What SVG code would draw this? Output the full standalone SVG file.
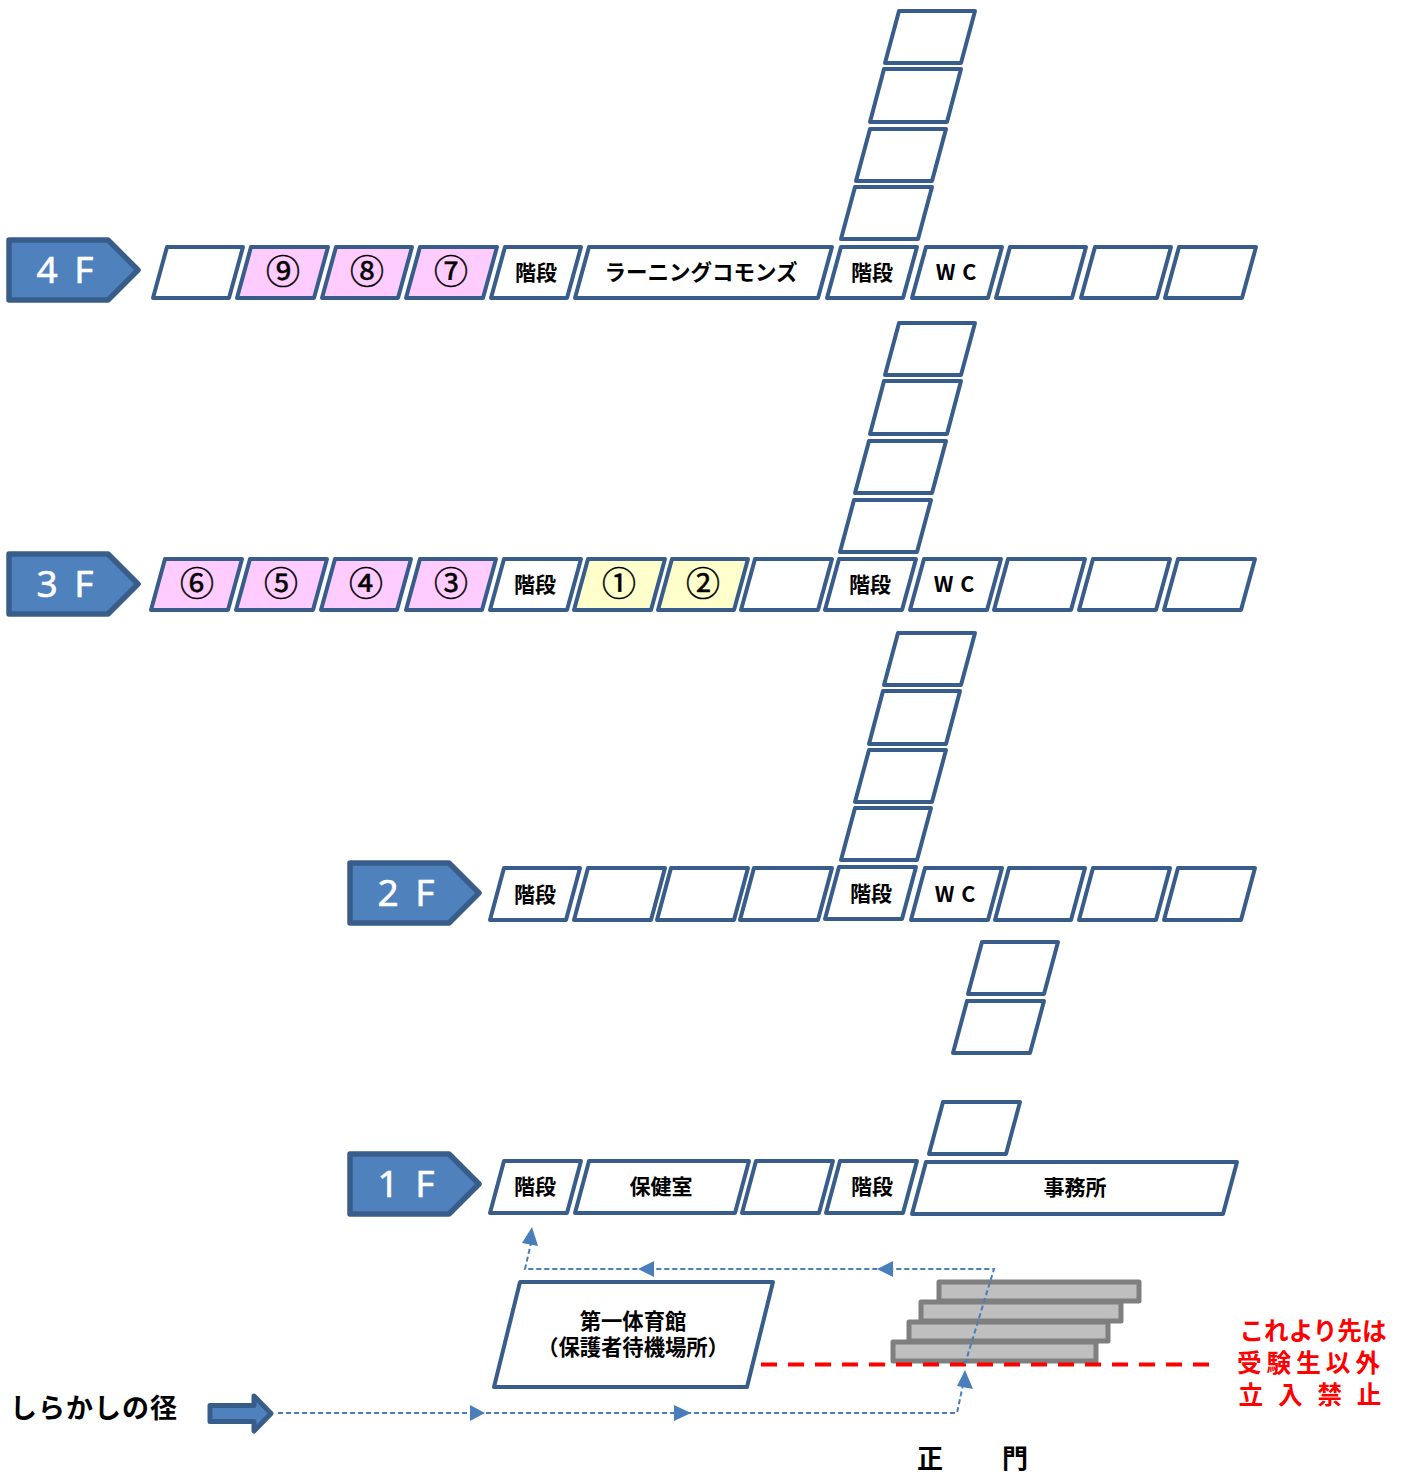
<svg xmlns="http://www.w3.org/2000/svg" width="1403" height="1473" viewBox="0 0 1403 1473">
<defs>
<style>
text{font-family:"Noto Sans CJK JP","Liberation Sans",sans-serif;fill:#000;text-anchor:middle}
.r{fill:#fff;stroke:#385d8a;stroke-width:4;stroke-linejoin:round}
.p{fill:#ffccff}.y{fill:#ffffcc}
.f{fill:#4f81bd;stroke:#385d8a;stroke-width:5.500;stroke-linejoin:round}
.ft{fill:#fff;stroke:#fff;stroke-width:.6;font-size:37px;font-family:"Noto Sans","Liberation Sans",sans-serif;font-weight:400;text-anchor:middle;word-spacing:7px}
.l{font-size:21px;font-weight:700}
.wc{word-spacing:2px;font-size:21.500px}
.n{font-size:34px;font-weight:400;stroke:#000;stroke-width:.5}
.s{fill:#bfbfbf;stroke:#7f7f7f;stroke-width:5;stroke-linejoin:round}
.d{fill:none;stroke:#4a7ebb;stroke-width:2;stroke-dasharray:5 3}
.a{fill:#4a7ebb}
.w{font-size:24.600px;fill:#f00;font-weight:700}
.t{font-family:"Liberation Sans","Noto Sans CJK JP",sans-serif}
</style>
</defs>
<g id="floor4">
<g id="f4-tag"><polygon class="f" points="9,240 108,240 138,270 108,300 9,300"/><text class="ft" x="65" y="283">4 F</text></g>
<polygon class="r" points="885,63 899,11 975,11 961,63"/>
<polygon class="r" points="870,122 884,69 961,69 947,122"/>
<polygon class="r" points="856,181 870,129 946,129 932,181"/>
<polygon class="r" points="841,239 855,187 932,187 918,239"/>
<polygon class="r" points="153,298 167,247 243,247 229,298"/>
<polygon class="r p" points="237,298 251,247 328,247 314,298"/><text class="n" x="283" y="284">⑨</text>
<polygon class="r p" points="322,298 336,247 412,247 398,298"/><text class="n" x="367" y="284">⑧</text>
<polygon class="r p" points="406,298 420,247 497,247 483,298"/><text class="n" x="451" y="284">⑦</text>
<polygon class="r" points="491,298 505,247 581,247 567,298"/><text class="l" x="536" y="280">階段</text>
<polygon class="r" points="575,298 589,247 832,247 818,298"/><text class="l" x="701" y="280" style="font-size:21.500px">ラーニングコモンズ</text>
<polygon class="r" points="827,298 841,247 917,247 903,298"/><text class="l" x="872" y="280">階段</text>
<polygon class="r" points="912,298 926,247 1002,247 988,298"/><text class="l wc" x="956" y="280">W C</text>
<polygon class="r" points="996,298 1010,247 1086,247 1072,298"/>
<polygon class="r" points="1081,298 1095,247 1171,247 1157,298"/>
<polygon class="r" points="1165,298 1179,247 1256,247 1242,298"/>
</g>
<g id="floor3">
<g id="f3-tag"><polygon class="f" points="9,554 108,554 138,584 108,614 9,614"/><text class="ft" x="65" y="597">3 F</text></g>
<polygon class="r" points="885,375 899,323 975,323 961,375"/>
<polygon class="r" points="870,434 884,381 961,381 947,434"/>
<polygon class="r" points="855,493 869,441 946,441 932,493"/>
<polygon class="r" points="840,552 854,500 931,500 917,552"/>
<polygon class="r p" points="151,610 165,559 242,559 228,610"/><text class="n" x="197" y="596">⑥</text>
<polygon class="r p" points="236,610 250,559 327,559 313,610"/><text class="n" x="281" y="596">⑤</text>
<polygon class="r p" points="321,610 335,559 411,559 397,610"/><text class="n" x="366" y="596">④</text>
<polygon class="r p" points="406,610 420,559 496,559 482,610"/><text class="n" x="451" y="596">③</text>
<polygon class="r" points="490,610 504,559 581,559 567,610"/><text class="l" x="535" y="592">階段</text>
<polygon class="r y" points="574,610 588,559 665,559 651,610"/><text class="n" x="619" y="596">①</text>
<polygon class="r y" points="658,610 672,559 748,559 734,610"/><text class="n" x="703" y="596">②</text>
<polygon class="r" points="741,610 755,559 832,559 818,610"/>
<polygon class="r" points="825,610 839,559 916,559 902,610"/><text class="l" x="870" y="592">階段</text>
<polygon class="r" points="910,610 924,559 1001,559 987,610"/><text class="l wc" x="954" y="592">W C</text>
<polygon class="r" points="994,610 1008,559 1085,559 1071,610"/>
<polygon class="r" points="1079,610 1093,559 1170,559 1156,610"/>
<polygon class="r" points="1164,610 1178,559 1255,559 1241,610"/>
</g>
<g id="floor2">
<g id="f2-tag"><polygon class="f" points="350,863 449,863 479,893 449,923 350,923"/><text class="ft" x="406" y="906">2 F</text></g>
<polygon class="r" points="884,685 898,633 975,633 961,685"/>
<polygon class="r" points="869,744 883,691 960,691 946,744"/>
<polygon class="r" points="855,802 869,750 946,750 932,802"/>
<polygon class="r" points="841,860 855,808 931,808 917,860"/>
<polygon class="r" points="490,920 504,868 580,868 566,920"/><text class="l" x="535" y="902">階段</text>
<polygon class="r" points="574,920 588,868 665,868 651,920"/>
<polygon class="r" points="657,920 671,868 748,868 734,920"/>
<polygon class="r" points="740,920 754,868 832,868 818,920"/>
<polygon class="r" points="825,919 839,867 916,867 902,919"/><text class="l" x="871" y="901">階段</text>
<polygon class="r" points="911,920 925,868 1002,868 988,920"/><text class="l wc" x="955" y="902">W C</text>
<polygon class="r" points="995,920 1009,868 1085,868 1071,920"/>
<polygon class="r" points="1079,920 1093,868 1170,868 1156,920"/>
<polygon class="r" points="1164,920 1178,868 1255,868 1241,920"/>
</g>
<g id="floor1">
<g id="f1-tag"><polygon class="f" points="350,1154 449,1154 479,1184 449,1214 350,1214"/><text class="ft" x="406" y="1197">1 F</text></g>
<polygon class="r" points="968,994 982,942 1058,942 1044,994"/>
<polygon class="r" points="953,1053 967,1001 1044,1001 1030,1053"/>
<polygon class="r" points="929,1154 943,1102 1020,1102 1006,1154"/>
<polygon class="r" points="490,1213 504,1161 581,1161 567,1213"/><text class="l" x="535" y="1194">階段</text>
<polygon class="r" points="575,1213 589,1161 749,1161 735,1213"/><text class="l" x="661" y="1194">保健室</text>
<polygon class="r" points="742,1213 756,1161 833,1161 819,1213"/>
<polygon class="r" points="826,1213 840,1161 917,1161 903,1213"/><text class="l" x="872" y="1194">階段</text>
<polygon class="r" points="912,1214 926,1162 1237,1162 1223,1214"/><text class="l" x="1075" y="1195">事務所</text>
</g>
<g id="gym"><polygon class="r" points="494,1387 520,1282 773,1282 747,1387"/>
<text class="l t" style="font-size:21.300px"><tspan x="633" y="1329">第一体育館</tspan><tspan x="633" y="1355">（保護者待機場所）</tspan></text></g>
<g id="steps">
<rect class="s" x="939" y="1282" width="200" height="19"/>
<rect class="s" x="921" y="1302" width="200" height="19"/>
<rect class="s" x="909" y="1322" width="199" height="19"/>
<rect class="s" x="893" y="1342" width="203" height="19"/>
</g>
<g id="connectors">
<line x1="761" y1="1364.500" x2="1211" y2="1364.500" stroke="#f00" stroke-width="4" stroke-dasharray="16 11"/>
<polyline class="d" points="278,1413 957,1413 964,1380"/>
<polyline class="d" points="965,1364 994,1269 525,1269 531,1243"/>
<polygon class="a" points="485,1413 470,1405 470,1421"/>
<polygon class="a" points="691,1413 674,1405 674,1421"/>
<polygon class="a" points="965,1370 957,1386 973,1389"/>
<polygon class="a" points="638,1269 654,1261 654,1277"/>
<polygon class="a" points="877,1269 893,1261 893,1277"/>
<polygon class="a" points="532,1227 522,1243 538,1246"/>
</g>
<g id="entry">
<text x="94" y="1418" style="font-size:27px;font-weight:700;letter-spacing:1px">しらかしの径</text>
<polygon class="f" style="stroke-width:5" points="210,1405.500 254,1405.500 254,1396 271,1413.500 254,1431 254,1421.500 210,1421.500"/>
</g>
<g id="labels">
<text class="t" x="930" y="1468" style="font-size:26px;font-weight:700">正</text>
<text class="t" x="1015" y="1468" style="font-size:26px;font-weight:700">門</text>
<text class="w t"><tspan x="1313" y="1340">これより先は</tspan><tspan x="1311" y="1372" style="letter-spacing:5px">受験生以外</tspan><tspan x="1310" y="1404" style="word-spacing:8px">立 入 禁 止</tspan></text>
</g>
</svg>
